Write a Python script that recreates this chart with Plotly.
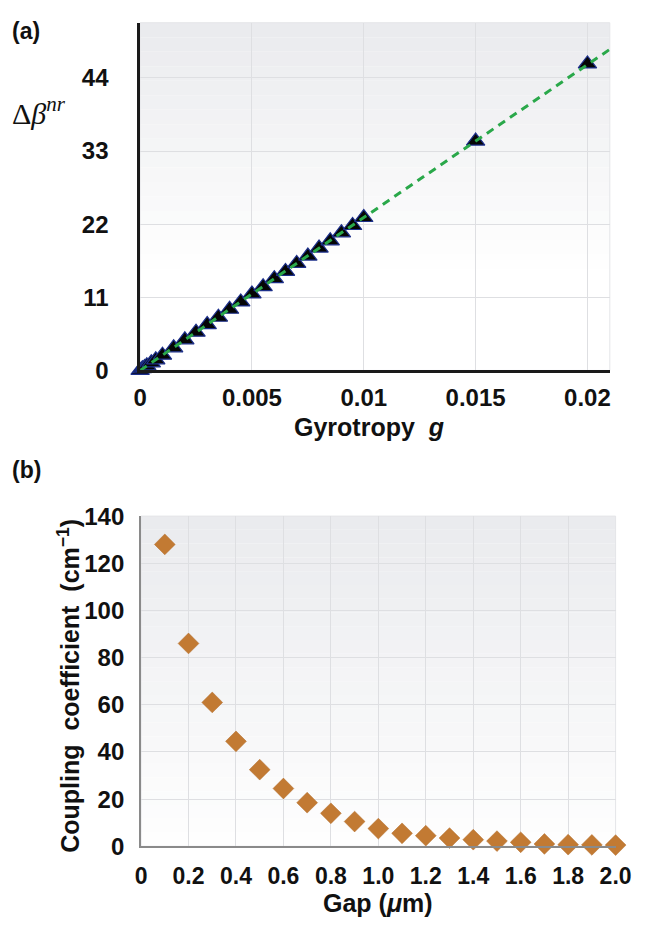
import plotly.graph_objects as go

# ---------------- data ----------------
# Panel (a): non-reciprocal phase shift vs gyrotropy
gyro_g = [0, 0.0001, 0.0002, 0.0003, 0.0005, 0.0007, 0.001, 0.0015, 0.002, 0.0025,
          0.003, 0.0035, 0.004, 0.0045, 0.005, 0.0055, 0.006, 0.0065, 0.007, 0.0075,
          0.008, 0.0085, 0.009, 0.0095, 0.01, 0.015, 0.02]
delta_beta = [0, 0.25, 0.45, 0.7, 1.15, 1.6, 2.3, 3.4, 4.6, 5.75,
              6.9, 8.0, 9.2, 10.3, 11.5, 12.6, 13.8, 14.9, 16.1, 17.2,
              18.4, 19.5, 20.7, 21.8, 23.0, 34.5, 46.1]
trend_g = [0, 0.021]
trend_beta = [0, 48.3]
a_xticks = [0, 0.005, 0.01, 0.015, 0.02]
a_xticklabels = ["0", "0.005", "0.01", "0.015", "0.02"]
a_yticks = [0, 11, 22, 33, 44]

# Panel (b): coupling coefficient vs gap
gap_um = [0.1, 0.2, 0.3, 0.4, 0.5, 0.6, 0.7, 0.8, 0.9, 1.0,
          1.1, 1.2, 1.3, 1.4, 1.5, 1.6, 1.7, 1.8, 1.9, 2.0]
coupling = [128, 86, 61, 44.5, 32.5, 24.5, 18.5, 14, 10.5, 7.5,
            5.5, 4.5, 3.5, 2.8, 2.2, 1.7, 1.0, 0.7, 0.6, 0.5]
b_xticks = [0, 0.2, 0.4, 0.6, 0.8, 1.0, 1.2, 1.4, 1.6, 1.8, 2.0]
b_xticklabels = ["0", "0.2", "0.4", "0.6", "0.8", "1.0", "1.2", "1.4", "1.6", "1.8", "2.0"]
b_yticks = [0, 20, 40, 60, 80, 100, 120, 140]

W, H = 648, 937
FONT = "Liberation Sans"

fig = go.Figure()

fig.add_trace(go.Scatter(
    x=gyro_g, y=delta_beta, mode="markers", xaxis="x", yaxis="y",
    marker=dict(symbol="triangle-up", size=16, color="#050505",
                line=dict(color="#1c2f8a", width=1.2)),
    showlegend=False, cliponaxis=False))
fig.add_trace(go.Scatter(
    x=trend_g, y=trend_beta, mode="lines", xaxis="x", yaxis="y",
    line=dict(color="#2aa84a", width=3, dash="8px,6px"),
    showlegend=False))

fig.add_trace(go.Scatter(
    x=gap_um, y=coupling, mode="markers", xaxis="x2", yaxis="y2",
    marker=dict(symbol="diamond", size=16, color="#c27a33",
                line=dict(color="#b06a28", width=0.5)),
    showlegend=False, cliponaxis=False))

def px_x(p):
    return p / W

def px_y(p):
    return 1 - p / H

# domains from pixel positions
a_dom_x = [px_x(138), px_x(625)]
a_dom_y = [px_y(367), px_y(9)]
b_dom_x = [px_x(139), px_x(631)]
b_dom_y = [px_y(857), px_y(517)]

tickfont = dict(family=FONT, size=24, color="#111111", weight="bold")
b_xtickfont = dict(family=FONT, size=23, color="#111111", weight="bold")
grid = "#dedfe2"

fig.update_layout(
    width=W, height=H,
    margin=dict(l=0, r=0, t=0, b=0),
    paper_bgcolor="white",
    plot_bgcolor="rgba(0,0,0,0)",
    xaxis=dict(domain=a_dom_x, range=[0, 0.021], tickvals=a_xticks, ticktext=a_xticklabels,
               showgrid=True, gridcolor=grid, gridwidth=1, zeroline=False,
               showline=True, linecolor="#1a1a1a", linewidth=2.5, ticks="",
               tickfont=tickfont, ticklabelstandoff=4, ticklabeloverflow="allow", anchor="y"),
    yaxis=dict(domain=a_dom_y, range=[0, 52.3], tickvals=a_yticks,
               showgrid=True, gridcolor=grid, gridwidth=1, zeroline=False,
               showline=True, linecolor="#1a1a1a", linewidth=2.5, ticks="",
               tickfont=tickfont, ticklabelstandoff=24, ticklabeloverflow="allow", anchor="x"),
    xaxis2=dict(domain=b_dom_x, range=[0, 2.0], tickvals=b_xticks, ticktext=b_xticklabels,
                showgrid=True, gridcolor=grid, gridwidth=1, zeroline=False,
                showline=True, linecolor="#8a8a8a", linewidth=2, ticks="",
                tickfont=b_xtickfont, ticklabelstandoff=8, ticklabeloverflow="allow", anchor="y2"),
    yaxis2=dict(domain=b_dom_y, range=[0, 140], tickvals=b_yticks,
                showgrid=True, gridcolor=grid, gridwidth=1, zeroline=False,
                showline=True, linecolor="#8a8a8a", linewidth=2, ticks="",
                tickfont=tickfont, ticklabelstandoff=10, ticklabeloverflow="allow", anchor="x2"),
)

# gradient backgrounds (top light grey fading to white) + light frame
def gradient(xr, yr, top=(234, 235, 238), bottom=(255, 255, 255), n=24, fade=0.6):
    shapes = []
    for i in range(n):
        t0 = i / n
        t1 = (i + 1) / n
        f = min(1.0, (i + 0.5) / n / fade)
        c = tuple(int(top[k] + (bottom[k] - top[k]) * f) for k in range(3))
        shapes.append(dict(type="rect", xref=xr + " domain", yref=yr + " domain",
                           x0=0, x1=1, y0=1 - t1, y1=1 - t0, layer="below",
                           line=dict(width=0), fillcolor="rgb(%d,%d,%d)" % c))
    shapes.append(dict(type="rect", xref=xr + " domain", yref=yr + " domain",
                       x0=0, x1=1, y0=0, y1=1, layer="below",
                       line=dict(width=1, color="#e4e5e8"), fillcolor="rgba(0,0,0,0)"))
    return shapes

fig.update_layout(shapes=gradient("x", "y", fade=0.7) + gradient("x2", "y2", fade=1.0))

lbl = dict(family=FONT, size=25, color="#111111", weight="bold")
fig.update_layout(annotations=[
    dict(text="(a)", x=px_x(3), y=px_y(18), xref="paper", yref="paper",
         xanchor="left", yanchor="middle", showarrow=False,
         font=dict(family=FONT, size=23, color="#111111", weight="bold")),
    dict(text="(b)", x=px_x(3), y=px_y(470), xref="paper", yref="paper",
         xanchor="left", yanchor="middle", showarrow=False,
         font=dict(family=FONT, size=23, color="#111111", weight="bold")),
    dict(text="Δ<i>β</i><sup><i>nr</i></sup>", x=px_x(3), y=px_y(100), xref="paper", yref="paper",
         xanchor="left", yanchor="middle", showarrow=False,
         font=dict(family="Liberation Serif", size=30, color="#111111")),
    dict(text="Gyrotropy  <i>g</i>", x=px_x(375), y=px_y(425), xref="paper", yref="paper",
         xanchor="center", yanchor="middle", showarrow=False, font=lbl),
    dict(text="Gap (<i>μ</i>m)", x=px_x(385), y=px_y(915), xref="paper", yref="paper",
         xanchor="center", yanchor="middle", showarrow=False, font=lbl),
    dict(text="Coupling  coefficient  (cm<sup>−1</sup>)", x=px_x(64), y=px_y(692),
         xref="paper", yref="paper", textangle=-90,
         xanchor="center", yanchor="middle", showarrow=False, font=lbl),
])

fig.write_html("out.html")
